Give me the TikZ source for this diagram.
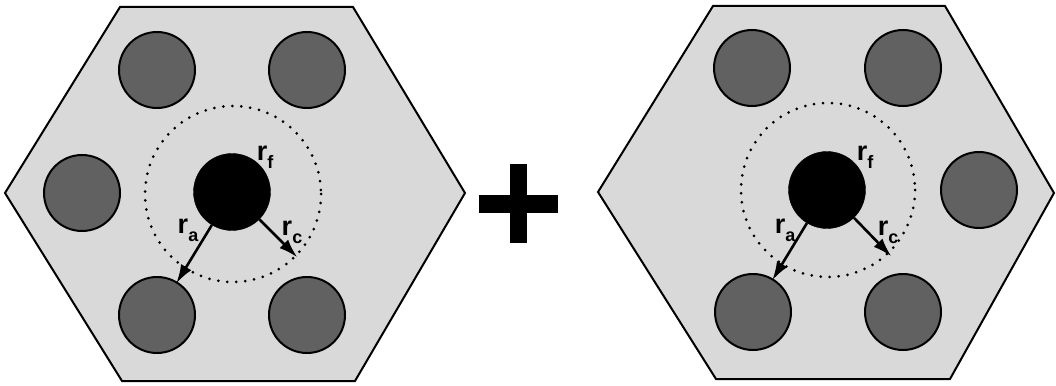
\documentclass[tikz,border=0pt]{standalone}
\usepackage{fontspec}
\setmainfont{Liberation Sans}
\usetikzlibrary{arrows.meta}
\definecolor{hexfill}{gray}{0.85}
\definecolor{rodfill}{gray}{0.38}
\tikzset{
  hexcell/.style={draw=black, line width=2pt, fill=hexfill, line join=miter},
  rod/.style={circle, draw=black, line width=2pt, fill=rodfill, minimum size=76pt, inner sep=0pt},
  fuel/.style={circle, draw=black, fill=black, minimum size=77pt, inner sep=0pt},
  ring/.style={draw=black, line width=3pt, dash pattern=on 0pt off 9pt, line cap=round},
  radarrow/.style={line width=2.6pt, -{Latex[length=19pt,width=12pt]}, shorten >=-2pt},
  lbl/.style={font=\fontsize{27}{27}\selectfont\bfseries, inner sep=0pt},
  plusbar/.style={fill=black, draw=none}
}
\newcommand{\rsub}[1]{r\raisebox{-0.3em}{\fontsize{18}{18}\selectfont\bfseries #1}}
\begin{document}
\begin{tikzpicture}[x=1pt,y=-1pt]
\useasboundingbox (0,0) rectangle (1056,385);
% left cell
\draw[hexcell] (5,193) -- (120,7) -- (353,7) -- (465,193) -- (355,381) -- (122,381) -- cycle;
\node[rod] (tl1) at (157,70) {};
\node[rod] (tr1) at (307,70) {};
\node[rod] (l1) at (82,193) {};
\node[rod] (bl1) at (157,315) {};
\node[rod] (br1) at (307,315) {};
\draw[ring] (233,194) circle (88);
\node[fuel] (c1) at (232,192) {};
\coordinate (rc1) at (296,256);
\draw[radarrow] (c1) -- (bl1);
\draw[radarrow] (c1) -- (rc1);
\node[lbl] (rf1) at (265,157) {\rsub{f}};
\node[lbl] (ra1) at (188,230) {\rsub{a}};
\node[lbl] (rcl1) at (292,232) {\rsub{c}};
% plus
\fill[plusbar] (479,195) rectangle (558,213);
\fill[plusbar] (510,164) rectangle (527,243);
% right cell
\draw[hexcell] (598,192) -- (713,6) -- (945,6) -- (1054,193) -- (950,379) -- (716,379) -- cycle;
\node[rod] (tl2) at (752,68) {};
\node[rod] (tr2) at (903,68) {};
\node[rod] (r2) at (979,190) {};
\node[rod] (bl2) at (753,312) {};
\node[rod] (br2) at (903,312) {};
\draw[ring] (828,190) circle (87);
\node[fuel] (c2) at (827,190) {};
\coordinate (rc2) at (890,255);
\draw[radarrow] (c2) -- (bl2);
\draw[radarrow] (c2) -- (rc2);
\node[lbl] (rf2) at (865,157) {\rsub{f}};
\node[lbl] (ra2) at (785,230) {\rsub{a}};
\node[lbl] (rcl2) at (888,232) {\rsub{c}};
\end{tikzpicture}
\end{document}
